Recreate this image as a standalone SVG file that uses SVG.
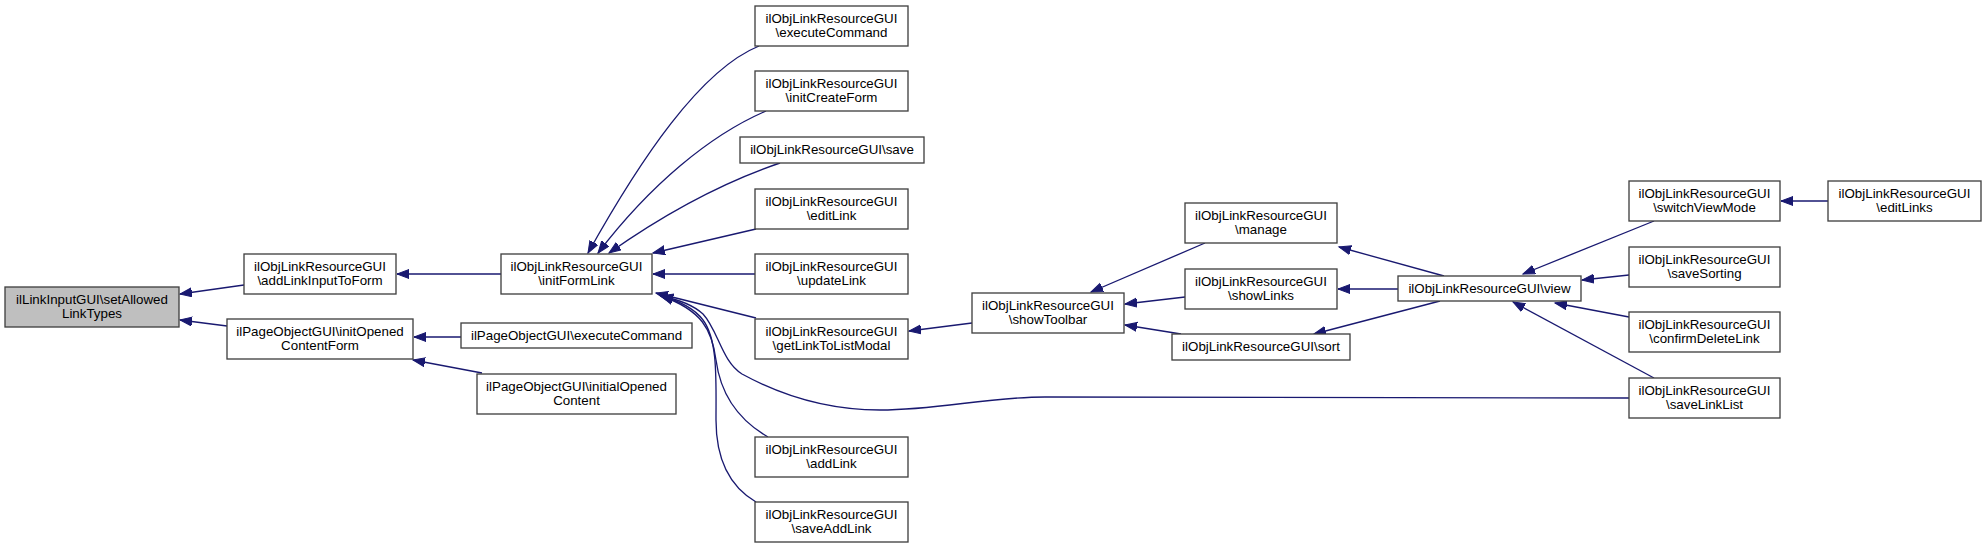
<svg xmlns="http://www.w3.org/2000/svg" width="1987" height="548" viewBox="0 0 1987 548">
<style>
.n rect{fill:#ffffff;stroke:#404040;stroke-width:1.33}
.n.root rect{fill:#bfbfbf}
.n text{font-family:"Liberation Sans",Arial,sans-serif;font-size:13.33px;fill:#000000;text-anchor:middle}
.e path{fill:none;stroke:#191970;stroke-width:1.33;marker-end:url(#ah)}
</style>
<defs>
<marker id="ah" markerUnits="userSpaceOnUse" markerWidth="14" markerHeight="11" refX="12" refY="5" orient="auto">
<path d="M0,0.5 L12,5 L0,9.5 z" fill="#191970" stroke="#191970" stroke-width="1"/>
</marker>
</defs>
<rect width="1987" height="548" fill="#ffffff"/>
<g id="connectors" class="e">
<path d="M244,285 L180,294"/>
<path d="M227,326 L180,320"/>
<path d="M501,274 L397,274"/>
<path d="M461,337 L414,337"/>
<path d="M482,373 L413,360"/>
<path d="M759,46 C700,70 640,160 588,253"/>
<path d="M766,111 C710,135 650,185 598,253"/>
<path d="M780,163 C730,180 670,210 609,253"/>
<path d="M756,229 L653,253"/>
<path d="M755,274 L653,274"/>
<path d="M756,318 L656,293"/>
<path d="M1629,398 L1045,397 C985,397 940,410 880,410 C820,410 775,392 742,374 C722,362 718,330 703,314 C692,304 676,299 661,296"/>
<path d="M768,437 C735,418 720,390 716,360 C712,330 702,310 661,296"/>
<path d="M756,502 C727,485 716,455 716,420 C716,380 718,340 703,320 C694,308 676,300 661,296"/>
<path d="M972,323 L909,331"/>
<path d="M1205,243 L1091,292"/>
<path d="M1185,297 L1125,304"/>
<path d="M1181,334 L1125,325"/>
<path d="M1444,276 L1339,247"/>
<path d="M1399,289 L1338,289"/>
<path d="M1440,301 L1314,334"/>
<path d="M1654,221 L1523,274"/>
<path d="M1629,275 L1582,280"/>
<path d="M1629,317 L1555,303"/>
<path d="M1654,378 L1513,302"/>
<path d="M1828,201 L1781,201"/>
</g>
<g id="n0" class="n root"><rect x="5" y="287" width="174" height="40"/><text x="92" y="303.5">ilLinkInputGUI\setAllowed</text><text x="92" y="317.5">LinkTypes</text></g>
<g id="n1" class="n"><rect x="244" y="254" width="152" height="40"/><text x="320" y="270.5">ilObjLinkResourceGUI</text><text x="320" y="284.5">\addLinkInputToForm</text></g>
<g id="n2" class="n"><rect x="227" y="319" width="186" height="40"/><text x="320" y="335.5">ilPageObjectGUI\initOpened</text><text x="320" y="349.5">ContentForm</text></g>
<g id="n3" class="n"><rect x="501" y="254" width="151" height="40"/><text x="576.5" y="270.5">ilObjLinkResourceGUI</text><text x="576.5" y="284.5">\initFormLink</text></g>
<g id="n4" class="n"><rect x="461" y="323" width="231" height="25"/><text x="576.5" y="340">ilPageObjectGUI\executeCommand</text></g>
<g id="n5" class="n"><rect x="477" y="374" width="199" height="40"/><text x="576.5" y="390.5">ilPageObjectGUI\initialOpened</text><text x="576.5" y="404.5">Content</text></g>
<g id="n6" class="n"><rect x="755" y="6" width="153" height="40"/><text x="831.5" y="22.5">ilObjLinkResourceGUI</text><text x="831.5" y="36.5">\executeCommand</text></g>
<g id="n7" class="n"><rect x="755" y="71" width="153" height="40"/><text x="831.5" y="87.5">ilObjLinkResourceGUI</text><text x="831.5" y="101.5">\initCreateForm</text></g>
<g id="n8" class="n"><rect x="740" y="137" width="184" height="26"/><text x="832" y="154">ilObjLinkResourceGUI\save</text></g>
<g id="n9" class="n"><rect x="755" y="189" width="153" height="40"/><text x="831.5" y="205.5">ilObjLinkResourceGUI</text><text x="831.5" y="219.5">\editLink</text></g>
<g id="n10" class="n"><rect x="755" y="254" width="153" height="40"/><text x="831.5" y="270.5">ilObjLinkResourceGUI</text><text x="831.5" y="284.5">\updateLink</text></g>
<g id="n11" class="n"><rect x="755" y="319" width="153" height="40"/><text x="831.5" y="335.5">ilObjLinkResourceGUI</text><text x="831.5" y="349.5">\getLinkToListModal</text></g>
<g id="n12" class="n"><rect x="755" y="437" width="153" height="40"/><text x="831.5" y="453.5">ilObjLinkResourceGUI</text><text x="831.5" y="467.5">\addLink</text></g>
<g id="n13" class="n"><rect x="755" y="502" width="153" height="40"/><text x="831.5" y="518.5">ilObjLinkResourceGUI</text><text x="831.5" y="532.5">\saveAddLink</text></g>
<g id="n14" class="n"><rect x="972" y="293" width="152" height="40"/><text x="1048" y="309.5">ilObjLinkResourceGUI</text><text x="1048" y="323.5">\showToolbar</text></g>
<g id="n15" class="n"><rect x="1185" y="203" width="152" height="40"/><text x="1261" y="219.5">ilObjLinkResourceGUI</text><text x="1261" y="233.5">\manage</text></g>
<g id="n16" class="n"><rect x="1185" y="269" width="152" height="40"/><text x="1261" y="285.5">ilObjLinkResourceGUI</text><text x="1261" y="299.5">\showLinks</text></g>
<g id="n17" class="n"><rect x="1172" y="334" width="178" height="26"/><text x="1261" y="351">ilObjLinkResourceGUI\sort</text></g>
<g id="n18" class="n"><rect x="1398" y="276" width="183" height="25"/><text x="1489.5" y="293">ilObjLinkResourceGUI\view</text></g>
<g id="n19" class="n"><rect x="1629" y="181" width="151" height="40"/><text x="1704.5" y="197.5">ilObjLinkResourceGUI</text><text x="1704.5" y="211.5">\switchViewMode</text></g>
<g id="n20" class="n"><rect x="1828" y="181" width="153" height="40"/><text x="1904.5" y="197.5">ilObjLinkResourceGUI</text><text x="1904.5" y="211.5">\editLinks</text></g>
<g id="n21" class="n"><rect x="1629" y="247" width="151" height="40"/><text x="1704.5" y="263.5">ilObjLinkResourceGUI</text><text x="1704.5" y="277.5">\saveSorting</text></g>
<g id="n22" class="n"><rect x="1629" y="312" width="151" height="40"/><text x="1704.5" y="328.5">ilObjLinkResourceGUI</text><text x="1704.5" y="342.5">\confirmDeleteLink</text></g>
<g id="n23" class="n"><rect x="1629" y="378" width="151" height="40"/><text x="1704.5" y="394.5">ilObjLinkResourceGUI</text><text x="1704.5" y="408.5">\saveLinkList</text></g>
</svg>
